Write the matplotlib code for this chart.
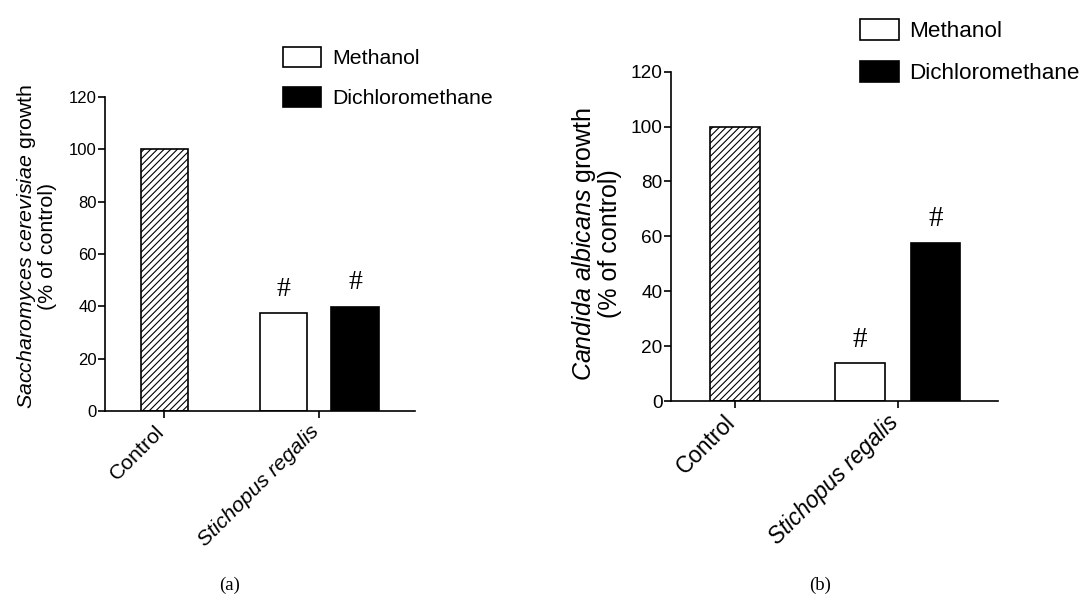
import matplotlib
matplotlib.use('Agg')
import matplotlib.pyplot as plt
from matplotlib.patches import Patch

# Global configuration
plt.rcParams['font.family'] = ['Liberation Sans', 'DejaVu Sans']
plt.rcParams['mathtext.fontset'] = 'custom'
plt.rcParams['mathtext.rm'] = 'Liberation Sans'
plt.rcParams['mathtext.it'] = 'Liberation Sans:italic'
plt.rcParams['hatch.linewidth'] = 0.8

# Data
groups = ['Control', 'Stichopus regalis']
group_styles = ['normal', 'italic']
series = ['Methanol', 'Dichloromethane']
control_a = 100
methanol_a = 37.3
dcm_a = 39.9
control_b = 100
methanol_b = 13.8
dcm_b = 57.7
yticks = [0, 20, 40, 60, 80, 100, 120]


def draw_panel(ax, control, meth, dcm, ylabel, fs, xlim, label_xy):
    w = 0.305
    off = 0.232
    ax.bar(0, control, w, color='white', edgecolor='black', hatch='/////', linewidth=1.2)
    ax.bar(1 - off, meth, w, color='white', edgecolor='black', linewidth=1.2)
    ax.bar(1 + off, dcm, w, color='black', edgecolor='black', linewidth=1.2)

    # significance marks
    for x, v in [(1 - off, meth), (1 + off, dcm)]:
        ax.annotate('#', (x, v), xytext=(0, 17), textcoords='offset points',
                    ha='center', va='center', fontsize=fs['hash'], family='Liberation Serif')

    ax.set_ylim(0, 120)
    ax.set_xlim(*xlim)
    ax.set_yticks(yticks)
    ax.set_xticks([0, 1])
    ax.set_xticklabels([])
    # rotated group names
    for i, (g, st) in enumerate(zip(groups, group_styles)):
        ax.annotate(g, (i, 0), xytext=(-2, -13), textcoords='offset points',
                    rotation=45, ha='right', va='center', rotation_mode='anchor',
                    fontsize=fs['xtick'], fontstyle=st, annotation_clip=False)
    ax.tick_params(axis='y', labelsize=fs['ytick'], length=5, width=1.2, pad=1)
    ax.tick_params(axis='x', length=5, width=1.2)
    ax.spines['top'].set_visible(False)
    ax.spines['right'].set_visible(False)
    ax.spines['left'].set_linewidth(1.2)
    ax.spines['bottom'].set_linewidth(1.2)
    ax.set_ylabel(ylabel, fontsize=fs['ylabel'], linespacing=1.0)
    ax.yaxis.set_label_coords(*label_xy)


fig = plt.figure(figsize=(10.81, 5.97), dpi=100)

# Panel (a)
ax1 = fig.add_axes([0.0971, 0.3116, 0.2868, 0.5260])
draw_panel(ax1, control_a, methanol_a, dcm_a,
           '$\\mathit{Saccharomyces\\ cerevisiae}$ growth\n(% of control)',
           {'hash': 20, 'xtick': 15.3, 'ytick': 12, 'ylabel': 15.4},
           (-0.385, 1.62), (-0.155, 0.524))

# Panel (b)
ax2 = fig.add_axes([0.6207, 0.3283, 0.3025, 0.5516])
draw_panel(ax2, control_b, methanol_b, dcm_b,
           '$\\mathit{Candida\\ albicans}$ growth\n(% of control)',
           {'hash': 21, 'xtick': 16.3, 'ytick': 13.7, 'ylabel': 18},
           (-0.393, 1.616), (-0.15, 0.477))

# Legends
handles = [Patch(facecolor='white', edgecolor='black', linewidth=1.2),
           Patch(facecolor='black', edgecolor='black', linewidth=1.2)]
fig.legend(handles, series, loc='upper left', bbox_to_anchor=(283 / 1081, 1 - 47 / 597),
           frameon=False, fontsize=15.3, handlelength=1.8, handleheight=1.05,
           handletextpad=0.5, labelspacing=0.9, borderpad=0, borderaxespad=0)
fig.legend(handles, series, loc='upper left', bbox_to_anchor=(860 / 1081, 1 - 19 / 597),
           frameon=False, fontsize=16.2, handlelength=1.75, handleheight=1.05,
           handletextpad=0.45, labelspacing=0.85, borderpad=0, borderaxespad=0)

# Captions
fig.text(230 / 1081, 1 - 585 / 597, '(a)', ha='center', va='center', fontsize=13.5,
         family='Liberation Serif')
fig.text(820 / 1081, 1 - 585 / 597, '(b)', ha='center', va='center', fontsize=13.5,
         family='Liberation Serif')

fig.savefig('out.png', dpi=100)
